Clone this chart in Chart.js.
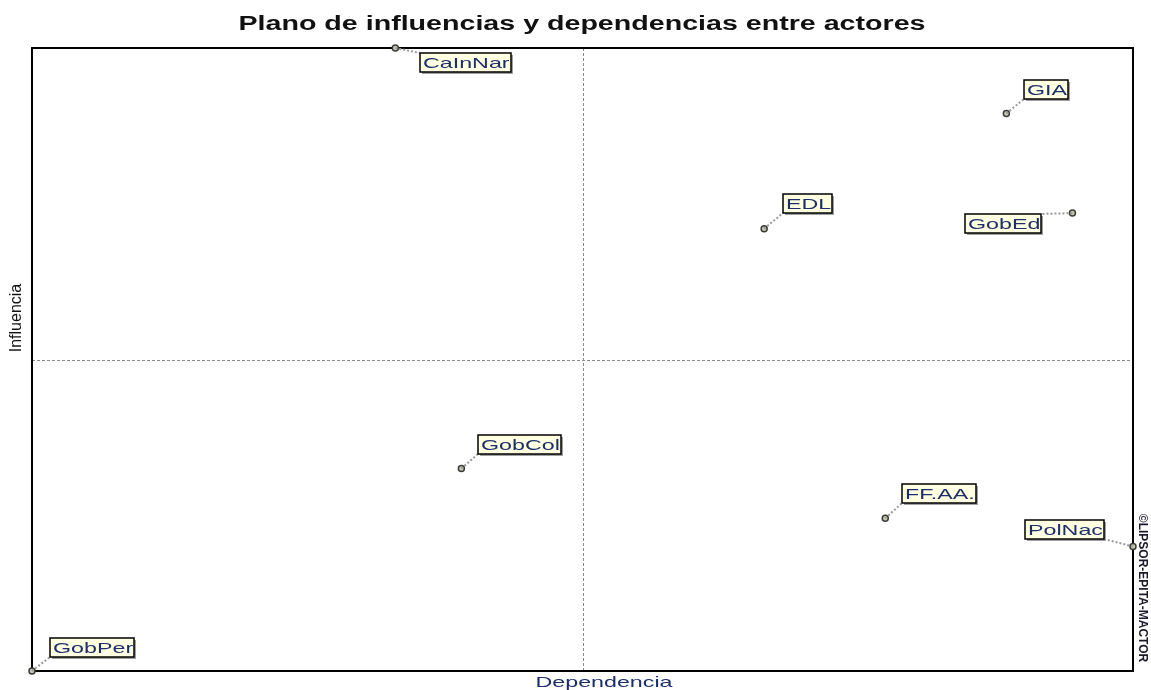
<!DOCTYPE html>
<html>
<head>
<meta charset="utf-8">
<script src="https://cdn.jsdelivr.net/npm/chart.js@4"></script>
<style>
  body { margin: 0; background: #fff; }
  #wrap { width: 1151px; height: 690px; position: relative; }
</style>
</head>
<body>
<div id="wrap"><canvas id="plano"></canvas></div>
<script>
// actores y sus valores (dependencia, influencia)
const actors = ['CaInNar', 'GIA', 'EDL', 'GobEd', 'GobCol', 'FF.AA.', 'PolNac', 'GobPer'];
const dependencia = [6.6, 17.7, 13.3, 18.9, 7.8, 15.5, 20.0, 0.0];
const influencia = [20.0, 17.9, 14.2, 14.7, 6.5, 4.9, 4.0, 0.0];

// where each label box sits relative to its point
const labelOffsets = [[25, 5], [18, -33], [19, -35], [-107, 1], [17, -34], [17, -34], [-108, -26], [18, -33]];

const SX = 1.55; // the original picture is stretched horizontally
const LABEL_FONT = '15px Arial, "Liberation Sans"';
const TEXT_COLOR = '#1c2f6b';

function stretchedText(ctx, text, x, y, sx) {
    ctx.save();
    ctx.translate(x, y);
    ctx.scale(sx, 1);
    ctx.fillText(text, 0, 0);
    ctx.restore();
}

const framePlugin = {
    id: 'frame',
    beforeDatasetsDraw(chart) {
        const { ctx, chartArea: a, scales } = chart;
        const mx = scales.x.getPixelForValue(10);
        const my = scales.y.getPixelForValue(10);
        ctx.save();
        ctx.strokeStyle = '#8a8a8a';
        ctx.lineWidth = 1;
        ctx.setLineDash([3, 2]);
        ctx.beginPath();
        ctx.moveTo(Math.round(mx) + 0.5, a.top);
        ctx.lineTo(Math.round(mx) + 0.5, a.bottom);
        ctx.moveTo(a.left, Math.round(my) + 0.5);
        ctx.lineTo(a.right, Math.round(my) + 0.5);
        ctx.stroke();
        ctx.setLineDash([]);
        ctx.strokeStyle = '#000';
        ctx.lineWidth = 2;
        ctx.strokeRect(a.left, a.top, a.right - a.left, a.bottom - a.top);

        // title
        ctx.fillStyle = '#111';
        ctx.font = 'bold 20px Arial, "Liberation Sans"';
        const t = 'Plano de influencias y dependencias entre actores';
        const tw = ctx.measureText(t).width;
        const ts = 687 / tw;
        stretchedText(ctx, t, 582 - tw * ts / 2, 30, ts);

        // axis titles
        ctx.fillStyle = TEXT_COLOR;
        ctx.font = LABEL_FONT;
        const dw = ctx.measureText('Dependencia').width * SX;
        stretchedText(ctx, 'Dependencia', 604 - dw / 2, 687, SX);

        ctx.save();
        ctx.translate(21, 318);
        ctx.rotate(-Math.PI / 2);
        ctx.font = '16px Arial, "Liberation Sans"';
        ctx.fillStyle = '#111';
        ctx.textAlign = 'center';
        ctx.fillText('Influencia', 0, 0);
        ctx.restore();

        ctx.save();
        ctx.translate(1139, 588);
        ctx.rotate(Math.PI / 2);
        ctx.font = 'bold 12px Arial, "Liberation Sans"';
        ctx.fillStyle = '#1a1a2a';
        ctx.textAlign = 'center';
        ctx.fillText('\u00A9LIPSOR-EPITA-MACTOR', 0, 0);
        ctx.restore();
        ctx.restore();
    },
    afterDatasetsDraw(chart) {
        const { ctx } = chart;
        const pts = chart.getDatasetMeta(0).data;
        ctx.save();
        ctx.font = LABEL_FONT;
        pts.forEach((p, i) => {
            const [dx, dy] = labelOffsets[i];
            const w = Math.round(ctx.measureText(actors[i]).width * SX) + 4;
            const h = 19;
            const bx = Math.round(p.x + dx);
            const by = Math.round(p.y + dy);
            // leader line to nearest box corner
            const cx = dx >= 0 ? bx : bx + w;
            const cy = dy >= 0 ? by : by + h;
            ctx.strokeStyle = '#9a9a9a';
            ctx.lineWidth = 2;
            ctx.setLineDash([2, 2]);
            ctx.beginPath();
            ctx.moveTo(p.x, p.y);
            ctx.lineTo(cx, cy);
            ctx.stroke();
            ctx.setLineDash([]);
            // shadow + box
            ctx.fillStyle = '#a0a0a0';
            ctx.fillRect(bx + 2, by + 2, w, h);
            ctx.fillStyle = '#ffffe1';
            ctx.fillRect(bx, by, w, h);
            ctx.strokeStyle = '#000';
            ctx.lineWidth = 1.5;
            ctx.strokeRect(bx, by, w, h);
            ctx.save();
            ctx.beginPath();
            ctx.rect(bx, by, w - 1, h);
            ctx.clip();
            ctx.fillStyle = TEXT_COLOR;
            stretchedText(ctx, actors[i], bx + 3, by + h - 4, SX);
            ctx.restore();
        });
        ctx.restore();
    }
};

new Chart(document.getElementById('plano'), {
    type: 'scatter',
    data: {
        datasets: [{
            data: dependencia.map((d, i) => ({ x: d, y: influencia[i] })),
            pointRadius: 3,
            pointBackgroundColor: '#c9c9b0',
            pointBorderColor: '#3a3a3a',
            pointBorderWidth: 1.5,
            clip: false
        }]
    },
    options: {
        responsive: true,
        maintainAspectRatio: false,
        animation: false,
        events: [],
        layout: { padding: { left: 32, right: 18, top: 48, bottom: 19 } },
        plugins: { legend: { display: false }, title: { display: false }, tooltip: { enabled: false } },
        scales: {
            x: { type: 'linear', min: 0, max: 20, display: false },
            y: { type: 'linear', min: 0, max: 20, display: false }
        }
    },
    plugins: [framePlugin]
});
</script>
</body>
</html>
